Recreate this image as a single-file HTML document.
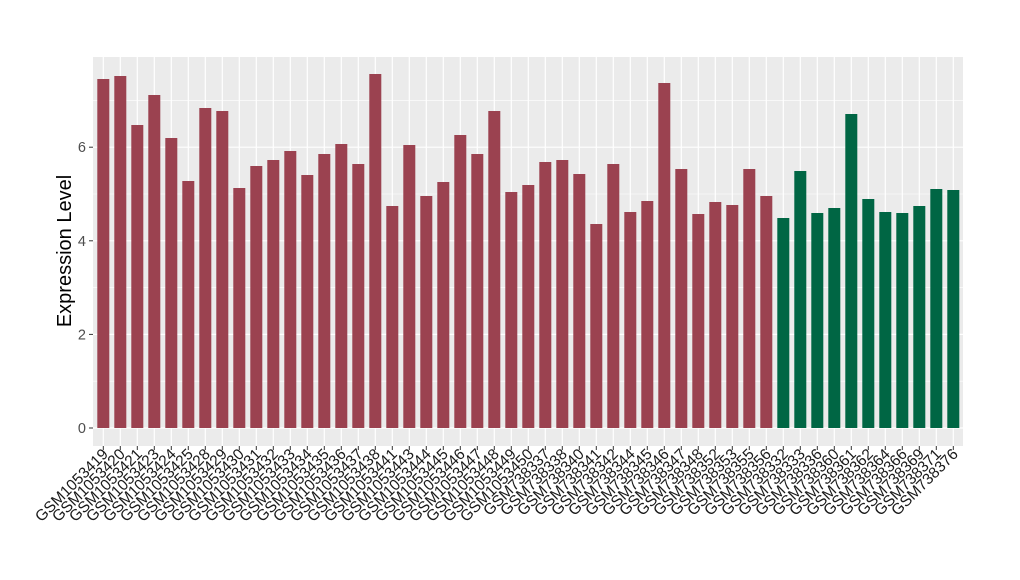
<!DOCTYPE html>
<html><head><meta charset="utf-8"><style>
html,body{margin:0;padding:0;background:#fff;}
svg{display:block;font-family:"Liberation Sans",Arial,sans-serif;}
.lab{font-size:15.5px;fill:#1a1a1a;text-anchor:end;}
</style></head><body>
<svg width="1020" height="580" viewBox="0 0 1020 580" xmlns="http://www.w3.org/2000/svg">
<rect x="93" y="57" width="870" height="389" fill="#ebebeb"/>
<g stroke="#fff" stroke-width="0.6">
<line x1="93" x2="963" y1="381.2" y2="381.2"/><line x1="93" x2="963" y1="287.6" y2="287.6"/><line x1="93" x2="963" y1="194" y2="194"/><line x1="93" x2="963" y1="100.4" y2="100.4"/>
</g>
<g stroke="#fff" stroke-width="1.2">
<line x1="93" x2="963" y1="428" y2="428"/><line x1="93" x2="963" y1="334.4" y2="334.4"/><line x1="93" x2="963" y1="240.8" y2="240.8"/><line x1="93" x2="963" y1="147.2" y2="147.2"/>
</g>
<g stroke="#fff" stroke-width="1.2">
<line x1="103.3" x2="103.3" y1="57" y2="446"/><line x1="120.3" x2="120.3" y1="57" y2="446"/><line x1="137.3" x2="137.3" y1="57" y2="446"/><line x1="154.3" x2="154.3" y1="57" y2="446"/><line x1="171.3" x2="171.3" y1="57" y2="446"/><line x1="188.3" x2="188.3" y1="57" y2="446"/><line x1="205.3" x2="205.3" y1="57" y2="446"/><line x1="222.3" x2="222.3" y1="57" y2="446"/><line x1="239.3" x2="239.3" y1="57" y2="446"/><line x1="256.3" x2="256.3" y1="57" y2="446"/><line x1="273.3" x2="273.3" y1="57" y2="446"/><line x1="290.3" x2="290.3" y1="57" y2="446"/><line x1="307.3" x2="307.3" y1="57" y2="446"/><line x1="324.3" x2="324.3" y1="57" y2="446"/><line x1="341.3" x2="341.3" y1="57" y2="446"/><line x1="358.3" x2="358.3" y1="57" y2="446"/><line x1="375.3" x2="375.3" y1="57" y2="446"/><line x1="392.3" x2="392.3" y1="57" y2="446"/><line x1="409.3" x2="409.3" y1="57" y2="446"/><line x1="426.3" x2="426.3" y1="57" y2="446"/><line x1="443.3" x2="443.3" y1="57" y2="446"/><line x1="460.3" x2="460.3" y1="57" y2="446"/><line x1="477.3" x2="477.3" y1="57" y2="446"/><line x1="494.3" x2="494.3" y1="57" y2="446"/><line x1="511.3" x2="511.3" y1="57" y2="446"/><line x1="528.3" x2="528.3" y1="57" y2="446"/><line x1="545.3" x2="545.3" y1="57" y2="446"/><line x1="562.3" x2="562.3" y1="57" y2="446"/><line x1="579.3" x2="579.3" y1="57" y2="446"/><line x1="596.3" x2="596.3" y1="57" y2="446"/><line x1="613.3" x2="613.3" y1="57" y2="446"/><line x1="630.3" x2="630.3" y1="57" y2="446"/><line x1="647.3" x2="647.3" y1="57" y2="446"/><line x1="664.3" x2="664.3" y1="57" y2="446"/><line x1="681.3" x2="681.3" y1="57" y2="446"/><line x1="698.3" x2="698.3" y1="57" y2="446"/><line x1="715.3" x2="715.3" y1="57" y2="446"/><line x1="732.3" x2="732.3" y1="57" y2="446"/><line x1="749.3" x2="749.3" y1="57" y2="446"/><line x1="766.3" x2="766.3" y1="57" y2="446"/><line x1="783.3" x2="783.3" y1="57" y2="446"/><line x1="800.3" x2="800.3" y1="57" y2="446"/><line x1="817.3" x2="817.3" y1="57" y2="446"/><line x1="834.3" x2="834.3" y1="57" y2="446"/><line x1="851.3" x2="851.3" y1="57" y2="446"/><line x1="868.3" x2="868.3" y1="57" y2="446"/><line x1="885.3" x2="885.3" y1="57" y2="446"/><line x1="902.3" x2="902.3" y1="57" y2="446"/><line x1="919.3" x2="919.3" y1="57" y2="446"/><line x1="936.3" x2="936.3" y1="57" y2="446"/><line x1="953.3" x2="953.3" y1="57" y2="446"/>
</g>
<g stroke="#333" stroke-width="1">
<line x1="89" x2="93" y1="428" y2="428"/><line x1="89" x2="93" y1="334.4" y2="334.4"/><line x1="89" x2="93" y1="240.8" y2="240.8"/><line x1="89" x2="93" y1="147.2" y2="147.2"/>
</g>
<g font-size="14.5" fill="#4d4d4d" text-anchor="end">
<text x="86" y="433">0</text><text x="86" y="339.4">2</text><text x="86" y="245.8">4</text><text x="86" y="152.2">6</text>
</g>
<text transform="translate(71,251) rotate(-90)" font-size="20" text-anchor="middle" fill="#000">Expression Level</text>
<g fill="#9b4250">
<rect x="97.3" y="79" width="12" height="349"/><rect x="114.3" y="76" width="12" height="352"/><rect x="131.3" y="125" width="12" height="303"/><rect x="148.3" y="95" width="12" height="333"/><rect x="165.3" y="138" width="12" height="290"/><rect x="182.3" y="181" width="12" height="247"/><rect x="199.3" y="108" width="12" height="320"/><rect x="216.3" y="111" width="12" height="317"/><rect x="233.3" y="188" width="12" height="240"/><rect x="250.3" y="166" width="12" height="262"/><rect x="267.3" y="160" width="12" height="268"/><rect x="284.3" y="151" width="12" height="277"/><rect x="301.3" y="175" width="12" height="253"/><rect x="318.3" y="154" width="12" height="274"/><rect x="335.3" y="144" width="12" height="284"/><rect x="352.3" y="164" width="12" height="264"/><rect x="369.3" y="74" width="12" height="354"/><rect x="386.3" y="206" width="12" height="222"/><rect x="403.3" y="145" width="12" height="283"/><rect x="420.3" y="196" width="12" height="232"/><rect x="437.3" y="182" width="12" height="246"/><rect x="454.3" y="135" width="12" height="293"/><rect x="471.3" y="154" width="12" height="274"/><rect x="488.3" y="111" width="12" height="317"/><rect x="505.3" y="192" width="12" height="236"/><rect x="522.3" y="185" width="12" height="243"/><rect x="539.3" y="162" width="12" height="266"/><rect x="556.3" y="160" width="12" height="268"/><rect x="573.3" y="174" width="12" height="254"/><rect x="590.3" y="224" width="12" height="204"/><rect x="607.3" y="164" width="12" height="264"/><rect x="624.3" y="212" width="12" height="216"/><rect x="641.3" y="201" width="12" height="227"/><rect x="658.3" y="83" width="12" height="345"/><rect x="675.3" y="169" width="12" height="259"/><rect x="692.3" y="214" width="12" height="214"/><rect x="709.3" y="202" width="12" height="226"/><rect x="726.3" y="205" width="12" height="223"/><rect x="743.3" y="169" width="12" height="259"/><rect x="760.3" y="196" width="12" height="232"/>
</g>
<g fill="#006644">
<rect x="777.3" y="218" width="12" height="210"/><rect x="794.3" y="171" width="12" height="257"/><rect x="811.3" y="213" width="12" height="215"/><rect x="828.3" y="208" width="12" height="220"/><rect x="845.3" y="114" width="12" height="314"/><rect x="862.3" y="199" width="12" height="229"/><rect x="879.3" y="212" width="12" height="216"/><rect x="896.3" y="213" width="12" height="215"/><rect x="913.3" y="206" width="12" height="222"/><rect x="930.3" y="189" width="12" height="239"/><rect x="947.3" y="190" width="12" height="238"/>
</g>
<g stroke="#333" stroke-width="1">
<path d="M103.3 446v4M120.3 446v4M137.3 446v4M154.3 446v4M171.3 446v4M188.3 446v4M205.3 446v4M222.3 446v4M239.3 446v4M256.3 446v4M273.3 446v4M290.3 446v4M307.3 446v4M324.3 446v4M341.3 446v4M358.3 446v4M375.3 446v4M392.3 446v4M409.3 446v4M426.3 446v4M443.3 446v4M460.3 446v4M477.3 446v4M494.3 446v4M511.3 446v4M528.3 446v4M545.3 446v4M562.3 446v4M579.3 446v4M596.3 446v4M613.3 446v4M630.3 446v4M647.3 446v4M664.3 446v4M681.3 446v4M698.3 446v4M715.3 446v4M732.3 446v4M749.3 446v4M766.3 446v4M783.3 446v4M800.3 446v4M817.3 446v4M834.3 446v4M851.3 446v4M868.3 446v4M885.3 446v4M902.3 446v4M919.3 446v4M936.3 446v4M953.3 446v4"/>
</g>
<g class="lab">
<text transform="translate(109,455) rotate(-45)">GSM1053419</text>
<text transform="translate(126,455) rotate(-45)">GSM1053420</text>
<text transform="translate(143,455) rotate(-45)">GSM1053421</text>
<text transform="translate(160,455) rotate(-45)">GSM1053423</text>
<text transform="translate(177,455) rotate(-45)">GSM1053424</text>
<text transform="translate(194,455) rotate(-45)">GSM1053425</text>
<text transform="translate(211,455) rotate(-45)">GSM1053428</text>
<text transform="translate(228,455) rotate(-45)">GSM1053429</text>
<text transform="translate(245,455) rotate(-45)">GSM1053430</text>
<text transform="translate(262,455) rotate(-45)">GSM1053431</text>
<text transform="translate(279,455) rotate(-45)">GSM1053432</text>
<text transform="translate(296,455) rotate(-45)">GSM1053433</text>
<text transform="translate(313,455) rotate(-45)">GSM1053434</text>
<text transform="translate(330,455) rotate(-45)">GSM1053435</text>
<text transform="translate(347,455) rotate(-45)">GSM1053436</text>
<text transform="translate(364,455) rotate(-45)">GSM1053437</text>
<text transform="translate(381,455) rotate(-45)">GSM1053438</text>
<text transform="translate(398,455) rotate(-45)">GSM1053441</text>
<text transform="translate(415,455) rotate(-45)">GSM1053443</text>
<text transform="translate(432,455) rotate(-45)">GSM1053444</text>
<text transform="translate(449,455) rotate(-45)">GSM1053445</text>
<text transform="translate(466,455) rotate(-45)">GSM1053446</text>
<text transform="translate(483,455) rotate(-45)">GSM1053447</text>
<text transform="translate(500,455) rotate(-45)">GSM1053448</text>
<text transform="translate(517,455) rotate(-45)">GSM1053449</text>
<text transform="translate(534,455) rotate(-45)">GSM1053450</text>
<text transform="translate(551,455) rotate(-45)">GSM738337</text>
<text transform="translate(568,455) rotate(-45)">GSM738338</text>
<text transform="translate(585,455) rotate(-45)">GSM738340</text>
<text transform="translate(602,455) rotate(-45)">GSM738341</text>
<text transform="translate(619,455) rotate(-45)">GSM738342</text>
<text transform="translate(636,455) rotate(-45)">GSM738344</text>
<text transform="translate(653,455) rotate(-45)">GSM738345</text>
<text transform="translate(670,455) rotate(-45)">GSM738346</text>
<text transform="translate(687,455) rotate(-45)">GSM738347</text>
<text transform="translate(704,455) rotate(-45)">GSM738348</text>
<text transform="translate(721,455) rotate(-45)">GSM738352</text>
<text transform="translate(738,455) rotate(-45)">GSM738353</text>
<text transform="translate(755,455) rotate(-45)">GSM738355</text>
<text transform="translate(772,455) rotate(-45)">GSM738356</text>
<text transform="translate(789,455) rotate(-45)">GSM738332</text>
<text transform="translate(806,455) rotate(-45)">GSM738333</text>
<text transform="translate(823,455) rotate(-45)">GSM738336</text>
<text transform="translate(840,455) rotate(-45)">GSM738360</text>
<text transform="translate(857,455) rotate(-45)">GSM738361</text>
<text transform="translate(874,455) rotate(-45)">GSM738362</text>
<text transform="translate(891,455) rotate(-45)">GSM738364</text>
<text transform="translate(908,455) rotate(-45)">GSM738366</text>
<text transform="translate(925,455) rotate(-45)">GSM738369</text>
<text transform="translate(942,455) rotate(-45)">GSM738371</text>
<text transform="translate(959,455) rotate(-45)">GSM738376</text>
</g>
</svg>
</body></html>
